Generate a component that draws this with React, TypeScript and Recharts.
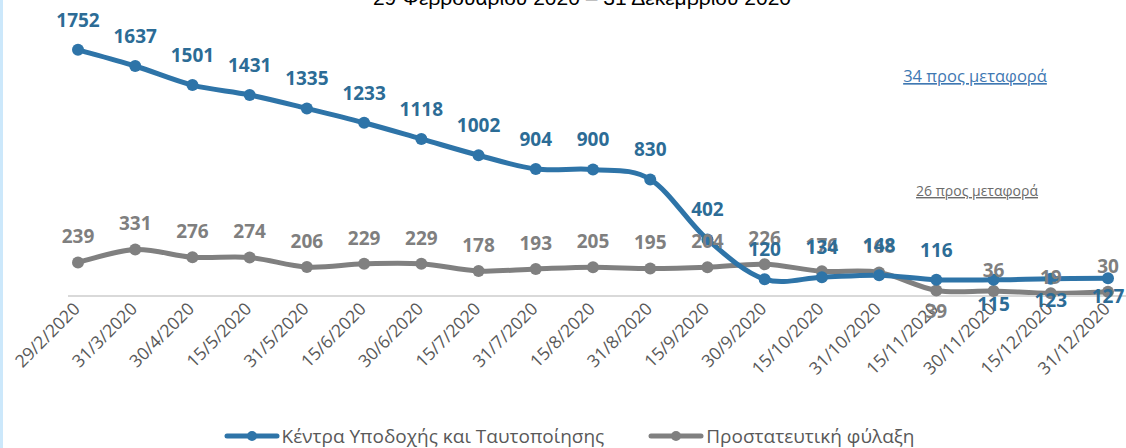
import React from 'react';
import { LineChart, Line, XAxis, YAxis, LabelList } from 'recharts';

// ---------- data ----------
const dates = [
  '29/2/2020', '31/3/2020', '30/4/2020', '15/5/2020', '31/5/2020', '15/6/2020',
  '30/6/2020', '15/7/2020', '31/7/2020', '15/8/2020', '31/8/2020', '15/9/2020',
  '30/9/2020', '15/10/2020', '31/10/2020', '15/11/2020', '30/11/2020', '15/12/2020',
  '31/12/2020',
];
const receptionCentres = [1752, 1637, 1501, 1431, 1335, 1233, 1118, 1002, 904, 900, 830, 402, 120, 134, 148, 116, 115, 123, 127];
const protectiveCustody = [239, 331, 276, 274, 206, 229, 229, 178, 193, 205, 195, 204, 226, 176, 168, 39, 36, 19, 30];
const seriesNames = ['Κέντρα Υποδοχής και Ταυτοποίησης', 'Προστατευτική φύλαξη'];
const chartTitle = '29 Φεβρουαρίου 2020 – 31 Δεκεμβρίου 2020';
const notes = ['34 προς μεταφορά', '26 προς μεταφορά'];

const data = dates.map((d, i) => ({ date: d, kyt: receptionCentres[i], pf: protectiveCustody[i] }));

// ---------- styles ----------
const BLUE = '#2e74a8';
const BLUE_TEXT = '#2c6c96';
const GRAY = '#808080';
const GRAY_TEXT = '#7f7f7f';
const FONT = '"Open Sans", "Noto Sans", sans-serif';

// Excel-like smoothed line (Catmull-Rom style bezier)
function excelSmooth(context: any) {
  let pts: [number, number][] = [];
  return {
    areaStart() {},
    areaEnd() {},
    lineStart() { pts = []; },
    point(x: number, y: number) { pts.push([+x, +y]); },
    lineEnd() {
      const n = pts.length;
      if (!n) return;
      context.moveTo(pts[0][0], pts[0][1]);
      for (let i = 0; i < n - 1; i++) {
        const p0 = pts[i - 1] || pts[i];
        const p1 = pts[i];
        const p2 = pts[i + 1];
        const p3 = pts[i + 2] || p2;
        const c1x = p1[0] + (p2[0] - p0[0]) / 6;
        const c1y = p1[1] + (p2[1] - p0[1]) / 6;
        const c2x = p2[0] - (p3[0] - p1[0]) / 6;
        const c2y = p2[1] - (p3[1] - p1[1]) / 6;
        context.bezierCurveTo(c1x, c1y, c2x, c2y, p2[0], p2[1]);
      }
    },
  };
}

const labelPlacement: Record<string, Record<string, number>> = {
  kyt: { def: -30, 16: 24, 17: 21, 18: 18 },
  pf: { def: -26, 15: 21, 16: -21, 17: -16 },
};

const makeLabel = (key: string, color: string) => (props: any) => {
  const { x, y, value, index } = props;
  const map = labelPlacement[key];
  const off = map[index] !== undefined ? map[index] : map.def;
  return (
    <text x={x} y={y + off} dy="0.36em" textAnchor="middle" fill={color}
      fontFamily={FONT} fontWeight={700} fontSize={19}>
      {value}
    </text>
  );
};

const DateTick = (props: any) => {
  const { x, y, payload } = props;
  const ax = x + 3;
  const ay = y + 14;
  return (
    <text x={ax} y={ay} transform={`rotate(-45 ${ax} ${ay})`} textAnchor="end"
      fill="#595959" fontFamily={FONT} fontSize={17.5}>
      {payload.value}
    </text>
  );
};

const LegendIcon = ({ color }: { color: string }) => (
  <svg width={56} height={14} style={{ display: 'block' }}>
    <line x1={3} y1={7} x2={53} y2={7} stroke={color} strokeWidth={5} strokeLinecap="round" />
    <circle cx={28} cy={7} r={5} fill={color} />
  </svg>
);

export default function App() {
  return (
    <div style={{ position: 'absolute', left: 0, top: 0, width: 1126, height: 448, background: '#fff', overflow: 'hidden' }}>
      <LineChart width={1126} height={448} data={data}
        margin={{ top: 15, right: 0, bottom: 82, left: 68 }}>
        <XAxis dataKey="date" height={70} interval={0} tickLine={false} tickSize={0} tickMargin={0}
          axisLine={{ stroke: '#d9d9d9', strokeWidth: 2 }} padding={{ left: 10, right: 18 }}
          tick={<DateTick />} />
        <YAxis hide domain={[0, 2000]} />
        <Line dataKey="pf" name={seriesNames[1]} stroke={GRAY} strokeWidth={5} type={excelSmooth as any}
          dot={{ r: 6, fill: GRAY, stroke: GRAY, strokeWidth: 0 }} activeDot={false} isAnimationActive={false}>
          <LabelList dataKey="pf" content={makeLabel('pf', GRAY_TEXT)} />
        </Line>
        <Line dataKey="kyt" name={seriesNames[0]} stroke={BLUE} strokeWidth={5} type={excelSmooth as any}
          dot={{ r: 6, fill: BLUE, stroke: BLUE, strokeWidth: 0 }} activeDot={false} isAnimationActive={false}>
          <LabelList dataKey="kyt" content={makeLabel('kyt', BLUE_TEXT)} />
        </Line>
      </LineChart>

      <svg width={1126} height={448} style={{ position: 'absolute', left: 0, top: 0, pointerEvents: 'none' }}>
        <text x={582} y={5} textAnchor="middle" fill="#000" fontFamily='"Liberation Sans", Arial, sans-serif' fontSize={21}>
          {chartTitle}
        </text>
        <text x={975} y={82} textAnchor="middle" fill="#3f78b2" fontFamily={FONT} fontSize={16.5} textDecoration="underline">
          {notes[0]}
        </text>
        <text x={977} y={196} textAnchor="middle" fill="#6b6b6b" fontFamily={FONT} fontSize={14} textDecoration="underline">
          {notes[1]}
        </text>
      </svg>

      <div style={{ position: 'absolute', left: 0, top: 0, width: 3, height: 448, background: '#cce8fb' }} />

      <div style={{ position: 'absolute', left: 0, top: 423, width: 1126, display: 'flex', justifyContent: 'center', alignItems: 'center', fontFamily: FONT, fontSize: 19, color: '#595959' }}>
        <div style={{ display: 'flex', alignItems: 'center', marginLeft: 12 }}>
          <LegendIcon color={BLUE} />
          <span style={{ marginLeft: 2 }}>{seriesNames[0]}</span>
        </div>
        <div style={{ display: 'flex', alignItems: 'center', marginLeft: 44 }}>
          <LegendIcon color={GRAY} />
          <span style={{ marginLeft: 2 }}>{seriesNames[1]}</span>
        </div>
      </div>
    </div>
  );
}
